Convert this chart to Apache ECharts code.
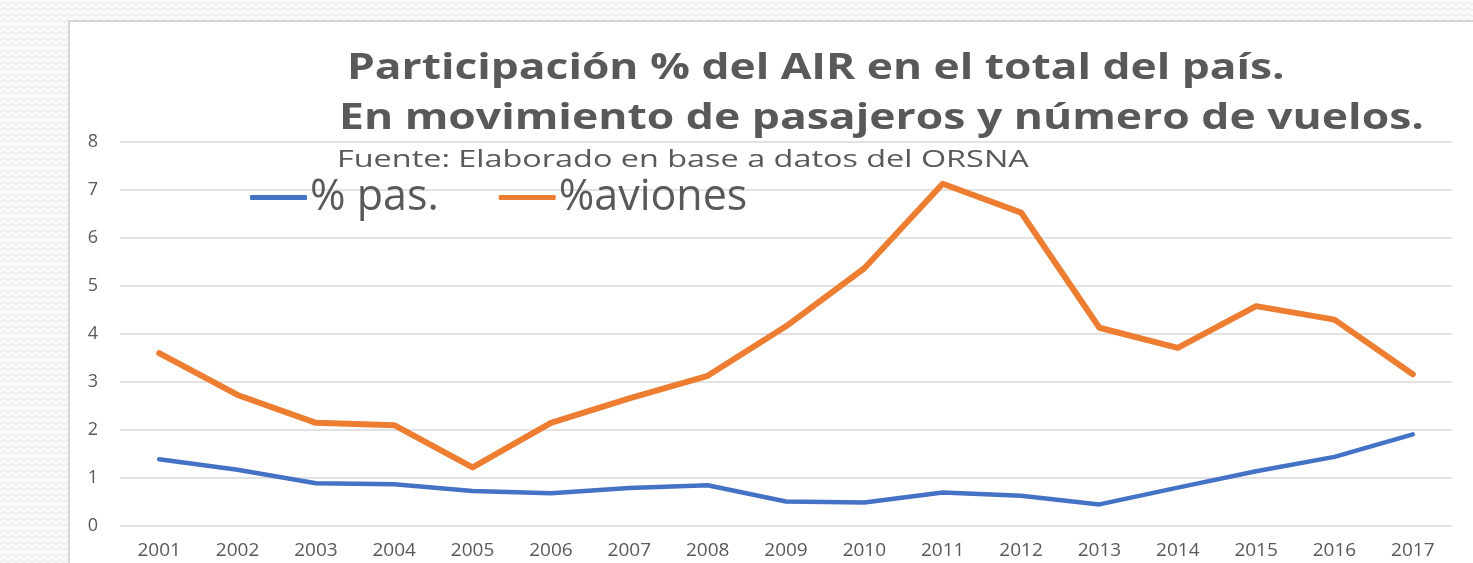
<!DOCTYPE html>
<html>
<head>
<meta charset="utf-8">
<title>Participación % del AIR</title>
<script src="https://cdn.jsdelivr.net/npm/echarts/dist/echarts.min.js"></script>
<style>
    html, body { margin: 0; padding: 0; background: #fff; }
    #main { width: 1473px; height: 563px; }
</style>
</head>
<body>
<div id="main"></div>
<script>
// datos
var years = ['2001', '2002', '2003', '2004', '2005', '2006', '2007', '2008', '2009',
    '2010', '2011', '2012', '2013', '2014', '2015', '2016', '2017'];
var pasajeros = [1.39, 1.17, 0.89, 0.87, 0.73, 0.68, 0.79, 0.85, 0.51,
    0.49, 0.70, 0.63, 0.45, 0.80, 1.14, 1.44, 1.91];
var aviones = [3.60, 2.73, 2.15, 2.10, 1.22, 2.15, 2.66, 3.13, 4.16,
    5.37, 7.13, 6.53, 4.13, 3.71, 4.58, 4.30, 3.16];
var seriesNames = ['% pas.', '%aviones'];
var yMin = 0, yMax = 8, yStep = 1;

var gris = '#595959';

// fondo rayado como en la diapositiva
var pattern = document.createElement('canvas');
pattern.width = 8;
pattern.height = 6;
var ctx = pattern.getContext('2d');
ctx.fillStyle = '#fafafa';
ctx.fillRect(0, 0, 8, 6);
ctx.strokeStyle = '#e4e4e4';
ctx.lineWidth = 1;
ctx.beginPath();
ctx.moveTo(0, 4.5);
ctx.lineTo(4, 1.5);
ctx.lineTo(8, 4.5);
ctx.stroke();

// el titulo de la imagen original esta estirado a lo ancho
function tituloTexto(text, x, y, size, weight, stretch) {
    return {
        type: 'text',
        x: x,
        y: y,
        scaleX: stretch,
        silent: true,
        style: {
            text: text,
            fontSize: size,
            fontWeight: weight,
            fontFamily: 'Open Sans',
            fill: gris,
            verticalAlign: 'top'
        }
    };
}

var myChart = echarts.init(document.getElementById('main'));
var option = {
    backgroundColor: { image: pattern, repeat: 'repeat' },
    textStyle: { fontFamily: 'Open Sans' },
    animation: false,
    graphic: [{
        type: 'rect',
        z: -10,
        silent: true,
        shape: { x: 69, y: 21, width: 1500, height: 600 },
        style: { fill: '#ffffff', stroke: '#d6d6d6', lineWidth: 2 }
    },
        tituloTexto('Participación % del AIR en el total del país.', 347, 51, 36, 'bold', 1.231),
        tituloTexto('En movimiento de pasajeros y número de vuelos.', 339, 101, 36, 'bold', 1.235),
        tituloTexto('Fuente: Elaborado en base a datos del ORSNA', 337, 148, 24, 'normal', 1.35)
    ],
    legend: {
        data: seriesNames,
        left: 250,
        top: 176,
        padding: 0,
        icon: 'roundRect',
        itemWidth: 57,
        itemHeight: 5,
        itemGap: 60,
        textStyle: { fontSize: 43, color: gris, padding: [0, 0, 0, -2] }
    },
    grid: {
        left: 120,
        right: 21,
        top: 142,
        bottom: 37,
        containLabel: false
    },
    xAxis: {
        type: 'category',
        boundaryGap: true,
        data: years,
        axisLine: { show: false },
        axisTick: { show: false },
        axisLabel: { color: gris, fontSize: 19, margin: 15 }
    },
    yAxis: {
        type: 'value',
        min: yMin,
        max: yMax,
        interval: yStep,
        axisLine: { show: false },
        axisTick: { show: false },
        axisLabel: { color: gris, fontSize: 18, margin: 22 },
        splitLine: { lineStyle: { color: '#d9d9d9', width: 1.5 } }
    },
    series: [{
        name: seriesNames[0],
        type: 'line',
        data: pasajeros,
        symbol: 'none',
        lineStyle: { color: '#4472C4', width: 4.5, cap: 'round', join: 'round' },
        itemStyle: { color: '#4472C4' }
    }, {
        name: seriesNames[1],
        type: 'line',
        data: aviones,
        symbol: 'none',
        lineStyle: { color: '#ED7D31', width: 6, cap: 'round', join: 'round' },
        itemStyle: { color: '#ED7D31' }
    }]
};
myChart.setOption(option);
</script>
</body>
</html>
